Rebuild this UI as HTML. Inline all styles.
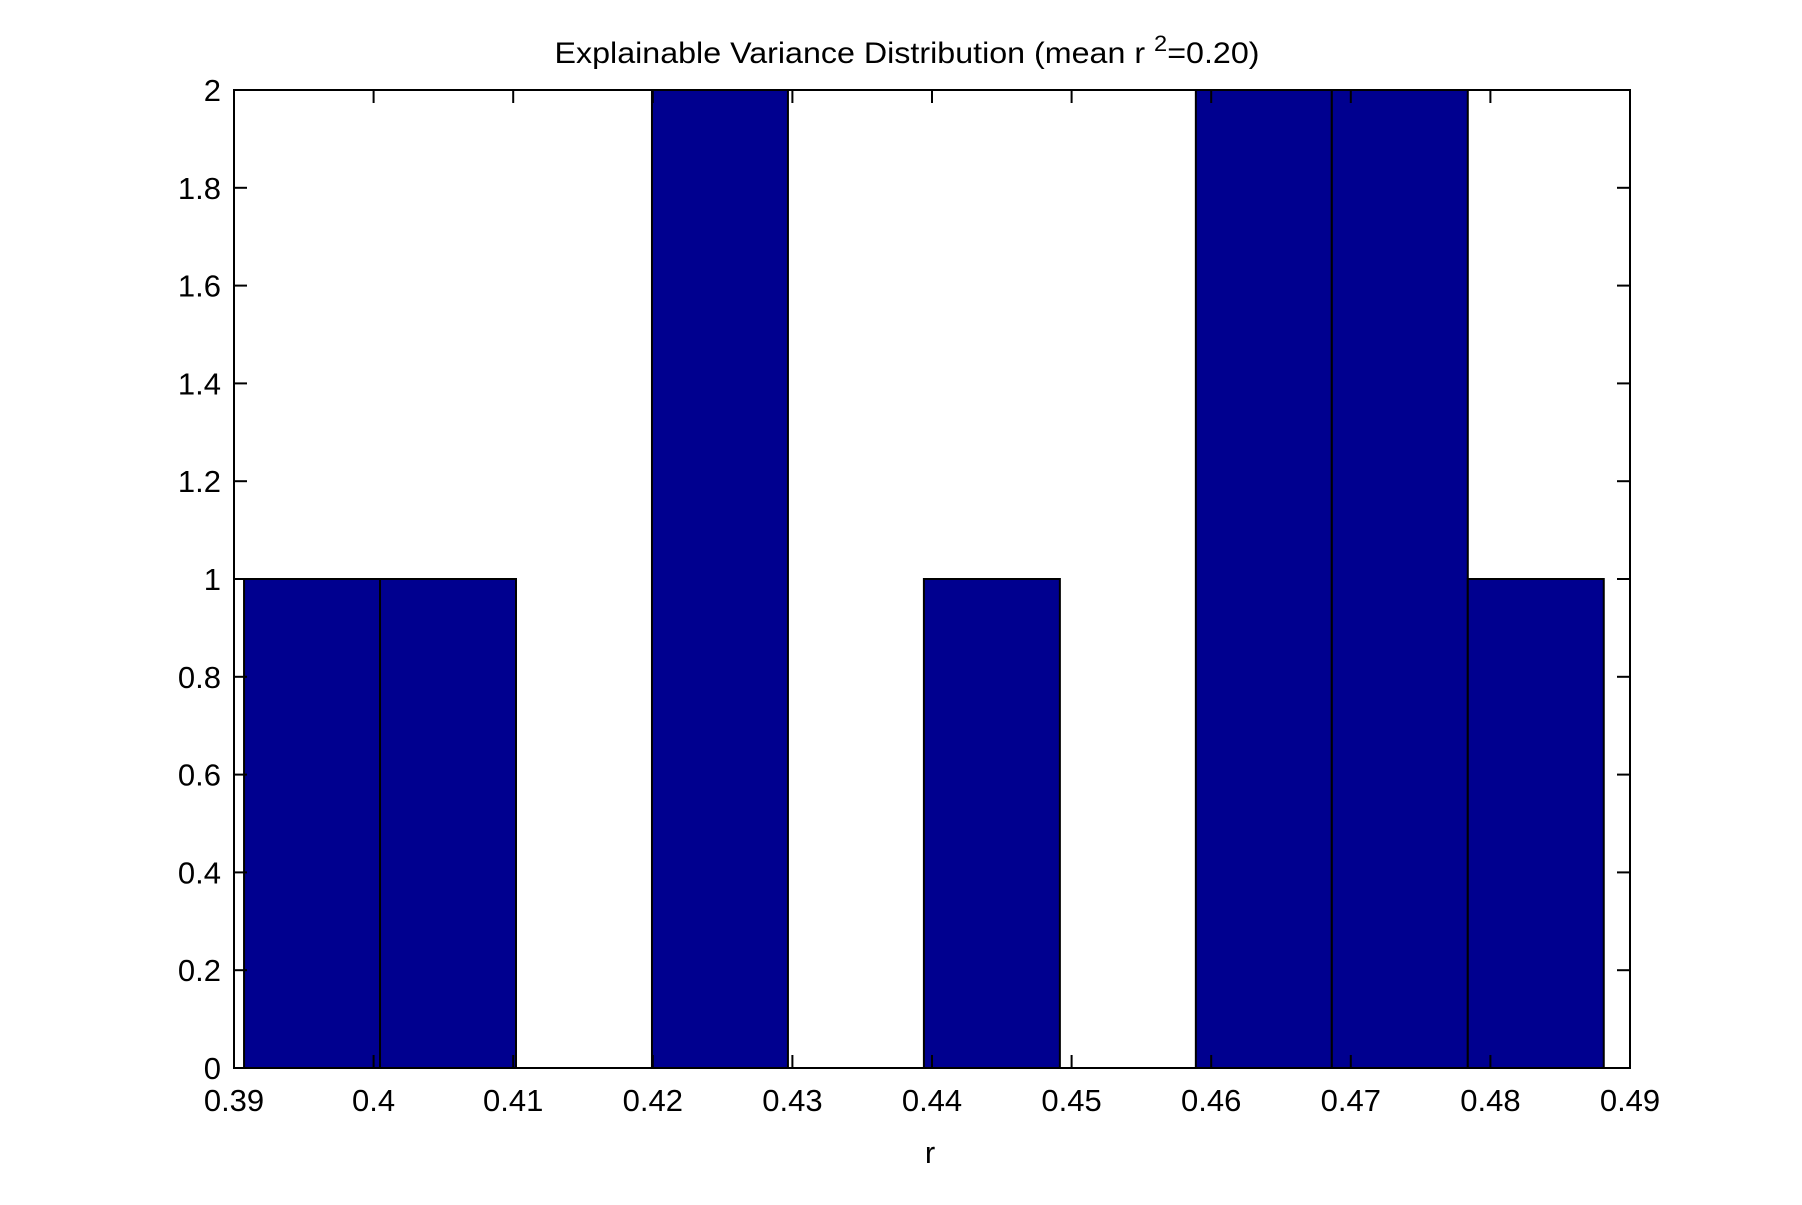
<!DOCTYPE html>
<html><head><meta charset="utf-8"><style>
html,body{margin:0;padding:0;background:#fff;}
svg text{font-family:"Liberation Sans",Arial,sans-serif;fill:#000;}
</style></head><body>
<svg id="chart" width="1802" height="1200" xmlns="http://www.w3.org/2000/svg">
<rect width="1802" height="1200" fill="#fff"/>
<text x="907" y="63" font-size="30" text-anchor="middle" textLength="705" lengthAdjust="spacingAndGlyphs">Explainable Variance Distribution (mean r <tspan dy="-12" font-size="22">2</tspan><tspan dy="12">=0.20)</tspan></text>
<g id="bars"></g>
<rect x="234" y="90" width="1396" height="978" fill="none" stroke="#000" stroke-width="2"/>
<g id="ticks"></g>
<text x="930" y="1163" font-size="31" text-anchor="middle">r</text>
</svg>
<script>
const binStart = 0.39072;
const binWidth = 0.00974;
const counts = [1, 1, 0, 2, 0, 1, 0, 2, 2, 1];
const xTicks = [0.39, 0.40, 0.41, 0.42, 0.43, 0.44, 0.45, 0.46, 0.47, 0.48, 0.49];
const xTickLabels = ["0.39","0.4","0.41","0.42","0.43","0.44","0.45","0.46","0.47","0.48","0.49"];
const yTicks = [0, 0.2, 0.4, 0.6, 0.8, 1, 1.2, 1.4, 1.6, 1.8, 2];
const yTickLabels = ["0","0.2","0.4","0.6","0.8","1","1.2","1.4","1.6","1.8","2"];

const L=234,R=1630,T=90,B=1068;
const xMin=0.39,xMax=0.49,yMin=0,yMax=2;
const sx=v=>L+(v-xMin)/(xMax-xMin)*(R-L);
const sy=v=>B-(v-yMin)/(yMax-yMin)*(B-T);
const NS="http://www.w3.org/2000/svg";
const bars=document.getElementById('bars');
counts.forEach((c,i)=>{
  const x0=sx(binStart+i*binWidth), x1=sx(binStart+(i+1)*binWidth);
  const r=document.createElementNS(NS,'rect');
  r.setAttribute('x',x0);r.setAttribute('y',sy(c));
  r.setAttribute('width',x1-x0);r.setAttribute('height',sy(0)-sy(c));
  r.setAttribute('fill','#00008f');r.setAttribute('stroke','#000');r.setAttribute('stroke-width','2');
  
  
  bars.appendChild(r);
});
const tg=document.getElementById('ticks');
function line(x1,y1,x2,y2){const l=document.createElementNS(NS,'line');l.setAttribute('x1',x1);l.setAttribute('y1',y1);l.setAttribute('x2',x2);l.setAttribute('y2',y2);l.setAttribute('stroke','#000');l.setAttribute('stroke-width','2');


tg.appendChild(l);}
xTicks.forEach((v,i)=>{
  const x=sx(v);
  line(x,B,x,B-13);line(x,T,x,T+13);
  const t=document.createElementNS(NS,'text');
  t.setAttribute('x',x);t.setAttribute('y',1111);t.setAttribute('font-size','31');t.setAttribute('text-anchor','middle');
  t.textContent=xTickLabels[i];
  
  
  tg.appendChild(t);
});
yTicks.forEach((v,i)=>{
  const y=sy(v);
  line(L,y,L+13,y);line(R,y,R-13,y);
  const t=document.createElementNS(NS,'text');
  t.setAttribute('x',221);t.setAttribute('y',y+11);t.setAttribute('font-size','31');t.setAttribute('text-anchor','end');
  t.textContent=yTickLabels[i];
  
  
  tg.appendChild(t);
});
</script>
</body></html>
